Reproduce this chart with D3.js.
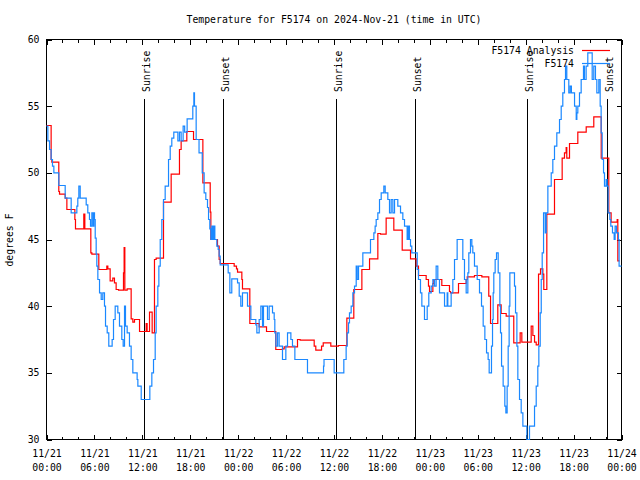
<!DOCTYPE html>
<html><head><meta charset="utf-8">
<script src="https://cdn.jsdelivr.net/npm/d3@7"></script>
<style>
body{margin:0;background:#fff}
svg text{font-family:"DejaVu Sans Mono","Liberation Mono",monospace;font-size:9.8px;fill:#000}
</style>
</head><body><svg id="c" width="640" height="480"></svg>
<script>
// ---------- data (hours since 2024-11-21 00:00 UTC) ----------
const titleText = "Temperature for F5174 on 2024-Nov-21 (time in UTC)";
const yLabelText = "degrees F";
const tickHours = [0,6,12,18,24,30,36,42,48,54,60,66,72];
const tickDates = ["11/21","11/21","11/21","11/21","11/22","11/22","11/22","11/22","11/23","11/23","11/23","11/23","11/24"];
const tickTimes = ["00:00","06:00","12:00","18:00","00:00","06:00","12:00","18:00","00:00","06:00","12:00","18:00","00:00"];
const yTicks = [30,35,40,45,50,55,60];
const sunLabels = ["Sunrise","Sunset","Sunrise","Sunset","Sunrise","Sunset"];
const sunHours = [12.2,22.08,36.23,46.12,60.15,70.16];
const seriesNames = ["F5174 Analysis","F5174"];

const obsHours = [0,0.17,0.38,0.58,0.75,0.92,1.54,2.34,3.09,3.8,3.92,4.05,4.22,4.97,5.17,5.38,5.51,5.68,5.84,5.93,6.01,6.1,6.22,6.3,6.43,6.64,6.85,7.05,7.26,7.39,7.6,7.8,8.22,8.39,8.6,8.93,9.14,9.43,9.6,9.77,9.89,10.1,10.39,10.6,10.81,11.35,11.44,11.86,12.94,13.19,13.4,13.61,13.73,13.94,14.07,14.24,14.44,14.65,14.86,15.28,15.49,15.69,15.94,16.45,16.65,16.86,17.11,17.3,17.61,18.32,18.45,18.53,18.74,19.1,19.5,19.74,19.95,20.16,20.29,20.45,20.58,20.7,20.83,20.95,21.08,21.33,21.5,21.62,21.75,22.75,22.96,23.2,23.92,24.13,24.33,24.54,25.17,25.59,26.21,26.34,26.63,26.84,27.05,27.17,27.67,27.88,28.3,28.51,28.59,28.72,28.93,29.13,29.55,29.97,30.18,30.6,30.8,31.1,32.68,34.69,34.75,36.02,37.23,37.52,37.65,37.82,37.94,38.15,38.36,38.57,38.78,38.9,39.07,39.61,40.57,40.99,41.15,41.28,41.49,41.7,41.91,42.24,42.41,42.74,42.95,43.16,43.37,43.58,43.99,44.33,44.62,44.83,45.16,45.3,45.45,45.58,45.74,46.42,46.58,46.83,47.0,47.33,47.67,47.87,48.17,48.38,48.59,48.79,49.0,49.21,49.84,50.17,50.25,50.67,50.88,51.09,51.42,52.13,52.34,52.55,52.76,52.88,53.09,53.26,53.38,53.59,53.93,54.22,54.47,54.68,54.89,55.1,55.3,55.43,55.72,55.85,55.93,56.01,56.18,56.35,56.56,56.77,56.85,56.98,57.18,57.39,57.52,57.68,57.81,57.93,58.02,58.6,58.73,58.9,59.02,59.23,59.44,59.65,60.15,60.48,61.11,61.32,61.52,61.65,61.82,61.95,62.07,62.24,62.45,62.57,62.78,63.2,63.4,63.61,63.9,64.24,64.45,64.65,64.86,64.99,65.15,65.4,65.57,65.73,66.12,66.33,66.41,66.53,66.74,66.95,67.24,67.36,67.57,67.78,68.33,68.53,68.74,68.91,69.16,69.33,69.45,69.58,69.75,69.87,70.08,70.2,70.33,70.54,70.66,70.87,71.08,71.2,71.37,71.62,71.7,72];
const obsTemps = [53.5,52.4,51.75,51.0,50.5,50.0,49.05,48.1,47.0,47.5,48.1,49.0,48.1,47.6,47.0,46.5,46.0,47.0,46.0,47.0,46.5,45.1,43.9,43.0,42.0,41.0,40.5,41.0,40.0,38.5,38.0,37.0,37.5,39.0,40.0,39.5,38.5,37.5,37.0,40.0,38.5,38.0,37.0,36.0,35.0,34.5,34.0,33.0,34.0,35.0,36.0,38.0,40.0,41.5,43.0,45.0,46.5,48.0,49.0,51.0,52.0,52.6,53.05,52.4,53.05,52.4,53.5,53.05,54.05,55.0,56.0,55.0,52.5,51.5,50.0,48.5,48.0,47.4,46.5,45.8,45.0,46.0,45.0,46.0,45.0,44.5,44.25,43.75,43.1,42.5,41.0,42.05,41.75,40.75,40.0,41.0,40.0,39.0,38.6,38.0,39.0,40.0,38.5,40.0,39.0,40.0,39.5,39.0,38.0,37.0,38.0,37.0,36.0,37.0,38.0,37.5,37.0,36.0,35.0,35.5,36.0,35.0,36.0,37.0,38.0,38.75,39.5,40.0,41.0,41.5,43.0,42.0,43.0,44.0,45.0,45.5,46.0,46.5,47.0,48.0,48.5,49.0,48.5,48.0,47.0,48.0,47.0,48.0,47.5,47.0,46.5,46.0,45.0,46.0,45.0,44.5,44.0,42.75,42.0,41.0,40.0,39.0,40.0,41.0,41.5,42.0,41.5,43.0,42.0,41.0,40.0,41.0,40.0,41.0,42.0,43.5,45.0,43.5,42.0,41.0,42.5,44.0,45.0,44.5,44.0,43.0,42.0,41.0,40.0,38.5,37.5,36.5,36.0,35.0,37.0,39.0,41.0,42.5,43.5,44.0,42.5,40.0,38.0,35.5,34.0,32.5,32.0,34.0,37.0,40.0,42.5,41.5,39.5,37.0,34.5,33.0,32.0,31.0,30.0,31.0,32.5,34.0,35.5,37.0,39.5,42.0,44.0,47.0,45.5,47.0,49.0,50.0,51.0,52.0,53.0,54.0,55.0,56.0,57.0,58.0,57.0,56.0,56.5,56.0,55.0,54.0,54.5,55.0,56.0,57.0,58.0,57.0,58.0,59.0,57.0,58.0,57.0,56.0,57.0,55.0,53.0,51.0,50.0,49.0,49.5,49.0,47.0,46.5,46.0,45.5,45.0,46.0,45.5,45.0,43.0,43.0];

const anaHours = [0,0.58,0.67,1.54,1.63,2.34,2.55,3.55,3.63,4.67,4.8,5.55,5.68,6.55,7.55,7.68,7.97,8.3,8.51,8.72,9.02,9.64,9.72,9.81,10.1,10.6,10.81,11.02,11.65,12.48,12.6,12.9,13.23,13.52,13.73,14.65,15.61,16.65,16.86,17.57,18.41,19.58,20.5,20.58,21.41,21.62,21.75,23.5,23.79,23.92,24.46,24.54,25.46,26.63,27.55,28.71,29.55,29.76,31.43,31.76,33.52,33.72,34.44,34.65,35.6,36.56,37.61,38.48,39.49,40.45,41.49,41.82,42.53,43.49,44.54,45.58,46.29,46.58,47.54,47.83,47.96,48.38,48.5,49.5,50.46,50.59,51.59,52.55,52.68,53.59,54.51,55.38,55.6,56.51,56.93,57.56,58.51,59.31,59.52,60.69,60.9,61.11,61.32,61.61,61.86,62.15,62.27,62.65,63.61,64.57,64.86,65.07,65.15,65.49,66.53,67.58,68.53,69.46,70.41,70.7,71.46,71.54,71.75];
const anaTemps = [53.55,51.0,50.8,48.6,48.4,48.1,47.25,46.5,45.8,46.9,45.8,44.0,43.9,42.75,43.0,42.8,41.9,42.1,41.75,41.25,41.2,42.5,44.4,41.2,41.3,39.05,38.8,39.0,38.1,38.7,38.1,39.55,38.0,43.5,43.6,47.8,49.9,51.75,52.4,53.1,52.5,49.25,47.05,45.0,44.5,43.5,43.2,43.0,42.8,42.55,42.0,41.3,38.7,38.45,38.1,36.75,36.8,36.95,37.5,37.45,37.0,36.7,37.0,37.25,37.0,37.05,39.1,41.25,42.75,43.55,45.45,45.4,46.6,45.7,44.2,43.55,43.0,42.3,42.0,41.5,41.1,41.7,42.0,41.55,41.1,41.0,41.7,42.0,42.2,42.3,42.2,40.75,38.7,40.1,39.45,39.25,37.25,38.0,37.3,38.5,37.8,37.3,37.1,42.4,42.8,42.4,41.25,46.9,49.5,51.1,51.5,51.9,51.1,52.2,53.05,53.45,54.2,51.1,47.0,46.3,46.5,43.4,43.4];

// ---------- drawing ----------
const svg = d3.select("#c");
svg.append("rect").attr("width",640).attr("height",480).attr("fill","#fff");
const L = 46.5, R = 621.5, T = 39.5, B = 439.5;
const x = d3.scaleLinear().domain([0,72]).range([L,R]);
const y = d3.scaleLinear().domain([30,60]).range([B,T]);
const minorHours = d3.range(0,73,2).filter(h => h % 6 !== 0);

function styleAxis(g){ g.select(".domain").remove(); g.selectAll(".tick line").attr("stroke","#000").attr("shape-rendering","crispEdges"); }

// bottom axis major
const gx = svg.append("g").attr("transform",`translate(0,${B})`)
  .call(d3.axisBottom(x).tickValues(tickHours).tickSize(-5).tickPadding(8).tickFormat((d,i)=>tickDates[i]));
styleAxis(gx);
gx.selectAll(".tick text").each(function(d,i){
  const t = d3.select(this); t.text(null).attr("dy",null).attr("y",null);
  t.append("tspan").attr("x",0).attr("y",17).text(tickDates[i]);
  t.append("tspan").attr("x",0).attr("y",31).text(tickTimes[i]);
}).attr("font-family",null).attr("font-size",null);
svg.append("g").attr("transform",`translate(0,${B})`)
  .call(d3.axisBottom(x).tickValues(minorHours).tickSize(-3).tickFormat(""))
  .call(styleAxis);
// top mirror
svg.append("g").attr("transform",`translate(0,${T})`)
  .call(d3.axisTop(x).tickValues(tickHours).tickSize(-5).tickFormat("")).call(styleAxis);
svg.append("g").attr("transform",`translate(0,${T})`)
  .call(d3.axisTop(x).tickValues(minorHours).tickSize(-3).tickFormat("")).call(styleAxis);
// left / right
const gy = svg.append("g").attr("transform",`translate(${L},0)`)
  .call(d3.axisLeft(y).tickValues(yTicks).tickSize(-5).tickPadding(7).tickFormat(d3.format("d")));
styleAxis(gy);
gy.selectAll(".tick text").attr("font-family",null).attr("font-size",null);
svg.append("g").attr("transform",`translate(${R},0)`)
  .call(d3.axisRight(y).tickValues(yTicks).tickSize(-5).tickFormat("")).call(styleAxis);

// border
svg.append("rect").attr("x",L).attr("y",T).attr("width",R-L).attr("height",B-T)
  .attr("fill","none").attr("stroke","#000").attr("shape-rendering","crispEdges");

// sunrise / sunset markers
const sun = svg.append("g");
sunHours.forEach((h,i)=>{
  const px = Math.round(x(h)) + 0.5;
  sun.append("line").attr("x1",px).attr("x2",px).attr("y1",99).attr("y2",B)
    .attr("stroke","#000").attr("shape-rendering","crispEdges");
  sun.append("text").attr("transform",`translate(${px+5},92) rotate(-90)`).text(sunLabels[i]);
});

// series
const stepLine = d3.line().curve(d3.curveStepAfter).x(d=>x(d[0])).y(d=>y(d[1]));
const anaData = anaHours.map((h,i)=>[h,anaTemps[i]]);
const obsData = obsHours.map((h,i)=>[h,obsTemps[i]]);
const RED = "#ff0000", BLUE = "#1a88ff";
svg.append("path").datum(anaData).attr("d",stepLine).attr("fill","none").attr("stroke",RED).attr("stroke-width",1.2);
svg.append("path").datum(obsData).attr("d",stepLine).attr("fill","none").attr("stroke",BLUE).attr("stroke-width",1.2);

// legend
const leg = svg.append("g");
[RED,BLUE].forEach((c,i)=>{
  const yy = 50.5 + i*13;
  leg.append("text").attr("x",574).attr("y",yy+3.5).attr("text-anchor","end").text(seriesNames[i]);
  leg.append("line").attr("x1",582).attr("x2",610).attr("y1",yy).attr("y2",yy).attr("stroke",c).attr("stroke-width",1.2);
});

// title and y label
svg.append("text").attr("x",(L+R)/2).attr("y",23).attr("text-anchor","middle").text(titleText);
svg.append("text").attr("transform","translate(13,240) rotate(-90)").attr("text-anchor","middle").text(yLabelText);
</script>
</body></html>
